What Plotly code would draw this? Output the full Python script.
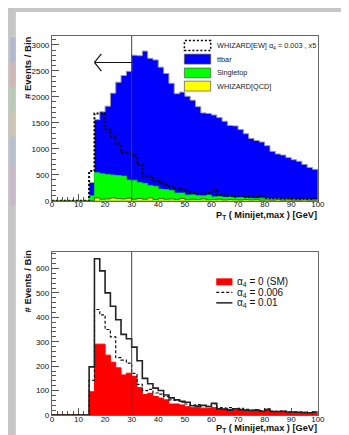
import plotly.graph_objects as go

# ---------------- data (2 GeV bins, 0..100 GeV) ----------------
BIN_EDGES = list(range(0, 102, 2))

TTBAR = [0, 0, 0, 0, 0, 0, 0,
         255, 1020, 1190, 1315, 1575, 1795, 1935, 2090, 2405, 2440, 2545, 2445, 2430, 2345,
         2235, 2060, 1910, 1940, 1900, 1820, 1710, 1595, 1570, 1575, 1520, 1460, 1375, 1380,
         1305, 1235, 1150, 1115, 1080, 1020, 915, 860, 850, 795, 760, 735, 670, 615, 585]
SINGLETOP = [0, 0, 0, 0, 0, 0, 0,
             95, 485, 490, 470, 440, 445, 440, 350, 365, 305, 305, 240, 255, 185,
             185, 165, 125, 105, 90, 85, 75, 60, 90, 50, 50, 55, 50, 40,
             50, 30, 35, 25, 40, 25, 25, 20, 20, 20, 20, 15, 15, 15, 10]
QCD = [0, 0, 0, 0, 0, 0, 0,
       0, 55, 30, 35, 55, 40, 35, 50, 30, 45, 30, 55, 25, 40,
       30, 35, 25, 45, 20, 30, 25, 35, 20, 25, 30, 15, 25, 20,
       15, 25, 15, 20, 10, 15, 10, 20, 10, 15, 10, 10, 15, 10, 10]
EW_X5 = [0, 0, 0, 0, 0, 0, 0,
         570, 1680, 1680, 1370, 1240, 1100, 930, 930, 870, 700, 470, 470, 380, 350,
         310, 280, 240, 220, 180, 150, 140, 140, 150, 210, 110, 100, 90, 80,
         90, 70, 80, 70, 90, 60, 50, 55, 45, 50, 45, 40, 45, 40, 50]

SM_A0 = [0, 0, 0, 0, 0, 0, 0,
         95, 290, 290, 245, 216, 193, 164, 171, 158, 112, 84, 89, 76, 69,
         62, 45, 45, 41, 34, 30, 32, 28, 26, 30, 22, 20, 22, 18,
         20, 17, 15, 16, 14, 18, 12, 11, 12, 10, 10, 9, 8, 7, 8]
A4_0006 = [0, 0, 0, 0, 0, 0, 0,
           142, 432, 410, 350, 320, 235, 225, 212, 170, 125, 100, 105, 90, 85,
           75, 62, 60, 52, 45, 40, 42, 38, 35, 45, 30, 28, 30, 25,
           27, 23, 20, 22, 18, 25, 16, 15, 16, 13, 13, 12, 11, 10, 12]
A4_001 = [0, 0, 0, 0, 0, 0, 0,
          197, 640, 590, 500, 445, 390, 330, 312, 278, 222, 150, 128, 110, 100,
          82, 70, 62, 56, 52, 38, 36, 40, 34, 48, 25, 24, 20, 25,
          22, 20, 18, 20, 15, 22, 14, 14, 15, 12, 12, 11, 10, 9, 12]

CUT = 30
ARROW_Y = 2660
ARROW_END = 16

X_TICKS = [0, 10, 20, 30, 40, 50, 60, 70, 80, 90, 100]

# ---------------- helpers ----------------
W, H = 349, 435
def fx(p):
    return p / W
def fy(p):
    return 1 - p / H

def steps(vals):
    return BIN_EDGES, list(vals) + [vals[-1]]

stack_qcd = QCD
stack_single = [a + b for a, b in zip(QCD, SINGLETOP)]
stack_tt = [a + b for a, b in zip(stack_single, TTBAR)]

fig = go.Figure()

def hist(vals, xa, ya, color, width, fillcolor=None, dash=None):
    xs, ys = steps(vals)
    fig.add_trace(go.Scatter(
        x=xs, y=ys, mode='lines', xaxis=xa, yaxis=ya,
        line=dict(shape='hv', color=color, width=width, dash=dash),
        fill='tozeroy' if fillcolor else None,
        fillcolor=fillcolor, showlegend=False, hoverinfo='skip'))

# top panel
hist(stack_tt, 'x', 'y', '#9a9a9a', 1, '#0000ff')
hist(stack_single, 'x', 'y', '#00e000', 0.8, '#00ff00')
hist(stack_qcd, 'x', 'y', '#5a5a00', 1, '#ffff00')
hist(EW_X5, 'x', 'y', '#000000', 2, None, '2px,2px')

# bottom panel
hist(SM_A0, 'x2', 'y2', '#ff0000', 1, '#ff0000')
hist(A4_0006, 'x2', 'y2', '#111111', 1.2, None, '3px,2px')
hist(A4_001, 'x2', 'y2', '#222222', 1.6)

# ---------------- axes ----------------
X0, X1 = 43, 316
TOP_T, TOP_B = 28.3, 195
BOT_T, BOT_B = 246.7, 411.7

tickfont = dict(family='Liberation Sans, Arial, sans-serif', size=8, color='#111111')

def xaxis_cfg(anchor):
    return dict(domain=[fx(X0), fx(X1)], range=[0, 100], anchor=anchor,
                tickmode='array', tickvals=X_TICKS, ticks='inside', ticklen=7,
                tickcolor='#555555', tickwidth=1,
                minor=dict(ticks='inside', ticklen=4, dtick=2, tickcolor='#555555', tickwidth=1),
                showline=True, linecolor='#666666', linewidth=1, mirror=True,
                showgrid=False, zeroline=False, tickfont=tickfont,
                layer='below traces', ticklabelstandoff=-4)

def yaxis_cfg(anchor, dom, rng, dt, mdt):
    return dict(domain=dom, range=rng, anchor=anchor,
                tickmode='linear', tick0=0, dtick=dt, ticks='inside', ticklen=7,
                tickcolor='#555555', tickwidth=1,
                minor=dict(ticks='inside', ticklen=4, dtick=mdt, tickcolor='#555555', tickwidth=1),
                showline=True, linecolor='#666666', linewidth=1, mirror=True,
                showgrid=False, zeroline=False, tickfont=tickfont,
                layer='below traces', ticklabelstandoff=0)

fig.update_layout(
    width=W, height=H,
    margin=dict(l=0, r=0, t=0, b=0),
    paper_bgcolor='#c6c6c6', plot_bgcolor='#ffffff',
    showlegend=False,
    xaxis=xaxis_cfg('y'),
    yaxis=yaxis_cfg('x', [fy(TOP_B), fy(TOP_T)], [0, 3170], 500, 100),
    xaxis2=xaxis_cfg('y2'),
    yaxis2=yaxis_cfg('x2', [fy(BOT_B), fy(BOT_T)], [0, 668], 100, 20),
)

shapes = []
# white page behind the charts
shapes.append(dict(type='rect', xref='paper', yref='paper', x0=fx(6), x1=1, y0=0, y1=fy(4),
                   fillcolor='#ffffff', line=dict(width=0), layer='below'))
# faint colourful strip at the left edge (background picture)
strip = [(30, 55, '#8f9fd6'), (55, 80, '#d99a9a'), (80, 105, '#9fd49a'),
         (105, 130, '#d8c890'), (130, 160, '#a4b2e2'), (160, 200, '#c9a0c9')]
for y0, y1, c in strip:
    shapes.append(dict(type='rect', xref='paper', yref='paper', x0=0, x1=fx(6),
                       y0=fy(y1), y1=fy(y0), fillcolor=c, opacity=0.35,
                       line=dict(width=0), layer='below'))

# cut lines
for ya in ('y', 'y2'):
    xa = 'x' if ya == 'y' else 'x2'
    shapes.append(dict(type='line', xref=xa, yref=ya + ' domain', x0=CUT, x1=CUT, y0=0, y1=1,
                       line=dict(color='#444444', width=1), layer='above'))

# arrow in top panel
shapes.append(dict(type='line', xref='x', yref='y', x0=CUT, x1=ARROW_END, y0=ARROW_Y, y1=ARROW_Y,
                   line=dict(color='#111111', width=1.2)))
shapes.append(dict(type='line', xref='x', yref='y', x0=ARROW_END, x1=ARROW_END + 2.6,
                   y0=ARROW_Y, y1=ARROW_Y + 165, line=dict(color='#111111', width=1.2)))
shapes.append(dict(type='line', xref='x', yref='y', x0=ARROW_END, x1=ARROW_END + 2.6,
                   y0=ARROW_Y, y1=ARROW_Y - 165, line=dict(color='#111111', width=1.2)))

# top legend symbols
LX0, LX1 = 179, 206
shapes.append(dict(type='rect', xref='paper', yref='paper', x0=fx(LX0), x1=fx(LX1),
                   y0=fy(43), y1=fy(33), fillcolor='#ffffff',
                   line=dict(color='#000000', width=1.5, dash='2px,2px')))
for (y0, y1, c) in [(46.7, 56.7, '#0000ff'), (60.7, 70.7, '#00ff00'), (74, 84, '#ffff00')]:
    shapes.append(dict(type='rect', xref='paper', yref='paper', x0=fx(LX0), x1=fx(LX1),
                       y0=fy(y1), y1=fy(y0), fillcolor=c,
                       line=dict(color='#555555', width=0.7)))

# bottom legend symbols
BX0, BX1 = 211.7, 228.3
shapes.append(dict(type='rect', xref='paper', yref='paper', x0=fx(BX0), x1=fx(BX1),
                   y0=fy(280.5), y1=fy(273.5), fillcolor='#ff0000', line=dict(width=0)))
shapes.append(dict(type='line', xref='paper', yref='paper', x0=fx(BX0), x1=fx(BX1),
                   y0=fy(287.7), y1=fy(287.7), line=dict(color='#111111', width=1.2, dash='3px,2px')))
shapes.append(dict(type='line', xref='paper', yref='paper', x0=fx(BX0), x1=fx(BX1),
                   y0=fy(298.3), y1=fy(298.3), line=dict(color='#111111', width=1.4)))

fig.update_layout(shapes=shapes)

annos = []
lfont = dict(family='Liberation Sans, Arial, sans-serif', size=7.3, color='#222222')
for txt, yc in [('WHIZARD[EW] α<sub>4</sub> = 0.003 , x5', 38),
                ('ttbar', 51.7), ('Singletop', 65.7), ('WHIZARD[QCD]', 79)]:
    annos.append(dict(text=txt, xref='paper', yref='paper', x=fx(210), y=fy(yc),
                      xanchor='left', yanchor='middle', showarrow=False, font=lfont))
bfont = dict(family='Liberation Sans, Arial, sans-serif', size=10, color='#111111')
for txt, yc in [('α<sub>4</sub> = 0 (SM)', 277), ('α<sub>4</sub> = 0.006', 288),
                ('α<sub>4</sub> = 0.01', 298.5)]:
    annos.append(dict(text=txt, xref='paper', yref='paper', x=fx(231), y=fy(yc),
                      xanchor='left', yanchor='middle', showarrow=False, font=bfont))

tfont = dict(family='Liberation Sans, Arial, sans-serif', size=9.5, color='#111111')
xtfont = dict(family='Liberation Sans, Arial, sans-serif', size=9.2, color='#111111')
for ytop in (27, 243):
    annos.append(dict(text='<b># Events / Bin</b>', xref='paper', yref='paper',
                      x=fx(17.7), y=fy(ytop), xanchor='center', yanchor='top',
                      textangle=-90, showarrow=False, font=tfont))
for ytop in (202, 418):
    annos.append(dict(text='<b>P<sub>T</sub> ( Minijet,max ) [GeV]</b>', xref='paper', yref='paper',
                      x=fx(317), y=fy(ytop), xanchor='right', yanchor='top',
                      showarrow=False, font=xtfont))
fig.update_layout(annotations=annos)

fig.write_html('out.html')
